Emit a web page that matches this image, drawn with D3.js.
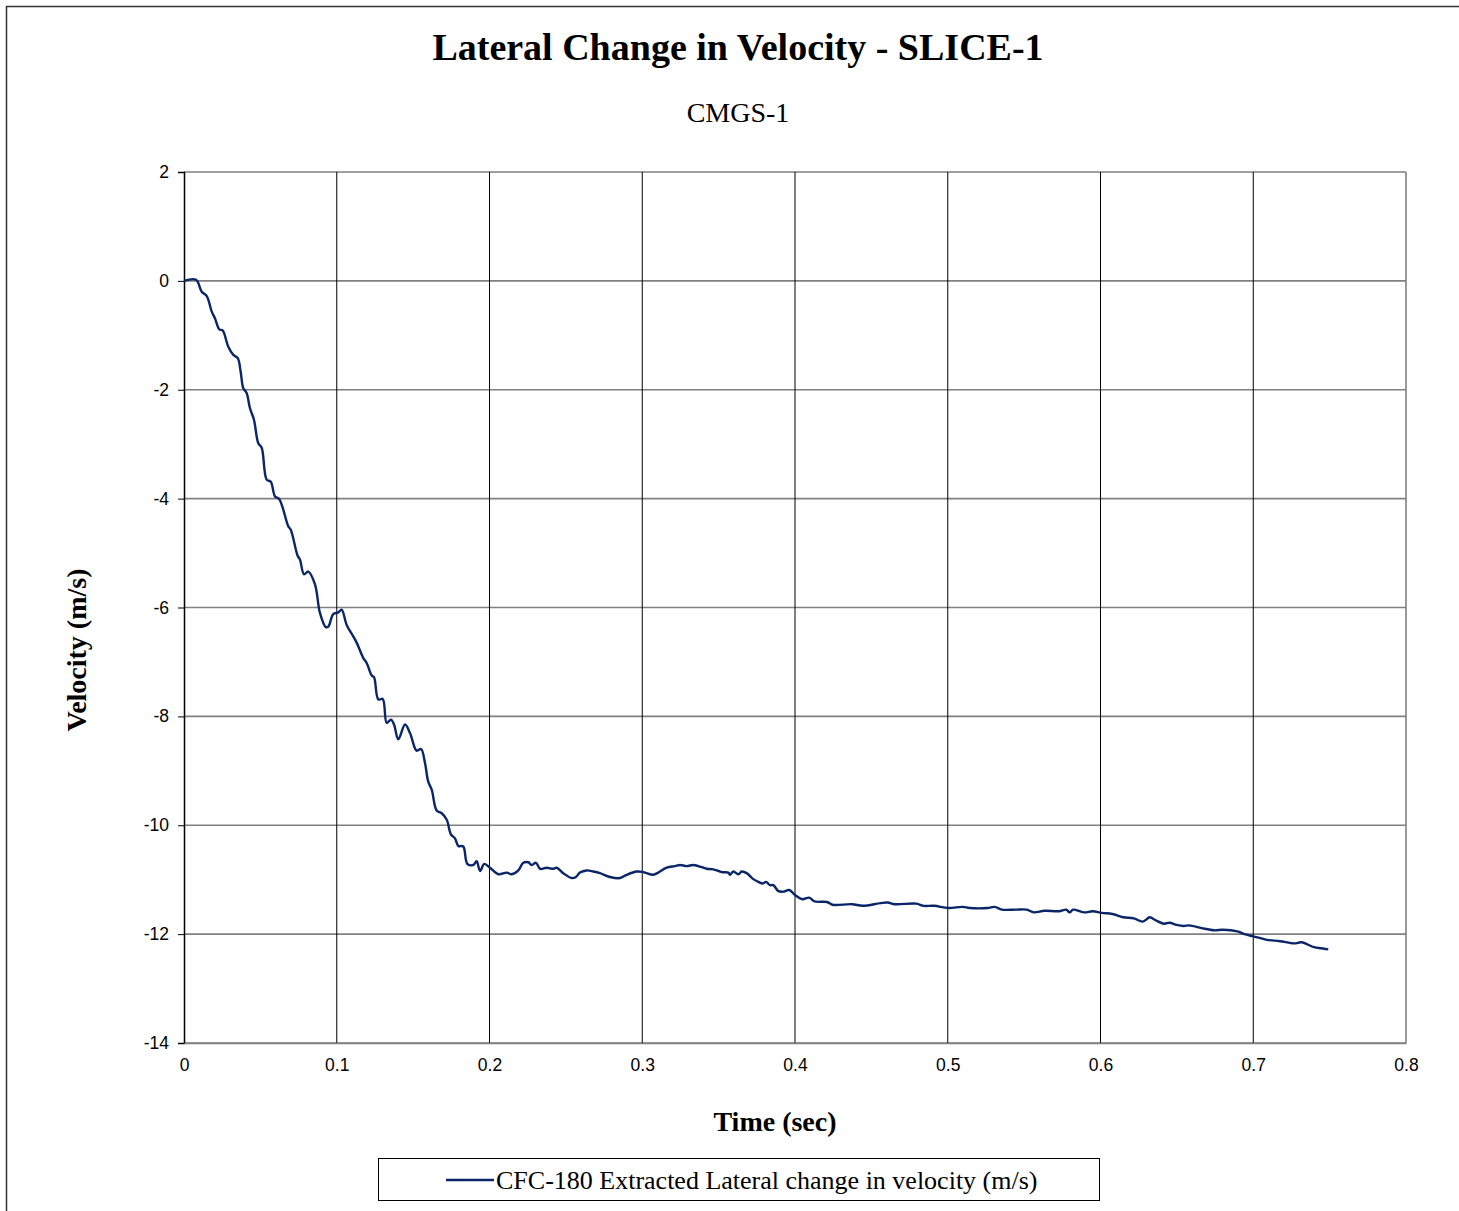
<!DOCTYPE html>
<html><head><meta charset="utf-8">
<script src="https://cdn.jsdelivr.net/npm/d3@7"></script>
<style>body{margin:0;background:#fff}svg{display:block}</style>
</head><body>
<svg id="c" width="1459" height="1211"></svg>
<script>
const title = "Lateral Change in Velocity - SLICE-1";
const subtitle = "CMGS-1";
const xLabel = "Time (sec)";
const yLabel = "Velocity (m/s)";
const seriesName = "CFC-180 Extracted Lateral change in velocity (m/s)";
const xTicks = [0, 0.1, 0.2, 0.3, 0.4, 0.5, 0.6, 0.7, 0.8];
const yTicks = [2, 0, -2, -4, -6, -8, -10, -12, -14];
const time = [0,0.0079,0.0116,0.0149,0.0181,0.0203,0.0231,0.0253,0.029,0.0323,0.0352,0.0371,0.0388,0.041,0.0432,0.0458,0.0486,0.0509,0.0541,0.0568,0.0596,0.0624,0.0683,0.0699,0.0744,0.0759,0.0786,0.0814,0.0858,0.089,0.0928,0.0945,0.0977,0.101,0.1032,0.1065,0.1108,0.1131,0.1174,0.1196,0.1229,0.1244,0.1272,0.1301,0.1327,0.1355,0.1375,0.1403,0.1447,0.148,0.1523,0.1552,0.1578,0.1599,0.1622,0.1654,0.1687,0.172,0.1748,0.1774,0.1796,0.1828,0.1855,0.1894,0.1916,0.1938,0.1966,0.2003,0.2058,0.2113,0.2145,0.2189,0.2221,0.2254,0.2276,0.2304,0.2331,0.2374,0.2418,0.244,0.2483,0.2538,0.2566,0.2592,0.2636,0.268,0.2723,0.2789,0.2854,0.2898,0.2964,0.3007,0.3072,0.3105,0.316,0.3214,0.3247,0.3291,0.3334,0.3367,0.3422,0.3465,0.352,0.3564,0.3574,0.3596,0.3629,0.3651,0.3684,0.3727,0.376,0.3789,0.381,0.3836,0.3858,0.3891,0.3923,0.3963,0.4,0.4047,0.4093,0.4128,0.421,0.4245,0.4374,0.4444,0.456,0.4607,0.4654,0.4794,0.4841,0.4911,0.5004,0.5097,0.5144,0.5261,0.5307,0.5354,0.5447,0.5517,0.5564,0.5634,0.5728,0.5775,0.5798,0.5821,0.5891,0.595,0.6008,0.6078,0.6148,0.6218,0.6276,0.6323,0.6358,0.6417,0.6452,0.6498,0.6545,0.658,0.6662,0.6744,0.6802,0.6896,0.6942,0.7,0.7082,0.7176,0.7269,0.7316,0.7398,0.7445,0.7491];
const velocity = [0,0.02,-0.2,-0.28,-0.56,-0.69,-0.89,-0.91,-1.21,-1.36,-1.42,-1.67,-1.97,-2.06,-2.34,-2.55,-2.98,-3.07,-3.65,-3.69,-3.96,-4.01,-4.51,-4.57,-5.05,-5.12,-5.39,-5.34,-5.58,-6.10,-6.36,-6.35,-6.12,-6.09,-6.04,-6.32,-6.53,-6.65,-6.93,-7.02,-7.25,-7.28,-7.69,-7.68,-8.12,-8.06,-8.15,-8.42,-8.15,-8.31,-8.63,-8.60,-8.86,-9.20,-9.35,-9.73,-9.78,-9.90,-10.17,-10.24,-10.38,-10.39,-10.71,-10.73,-10.66,-10.84,-10.71,-10.78,-10.9,-10.87,-10.9,-10.83,-10.69,-10.68,-10.73,-10.69,-10.8,-10.78,-10.8,-10.78,-10.88,-10.97,-10.95,-10.87,-10.83,-10.85,-10.88,-10.95,-10.97,-10.91,-10.85,-10.86,-10.91,-10.87,-10.78,-10.75,-10.73,-10.75,-10.73,-10.75,-10.8,-10.81,-10.86,-10.87,-10.91,-10.85,-10.9,-10.85,-10.88,-10.99,-11.04,-11.07,-11.04,-11.10,-11.10,-11.21,-11.22,-11.19,-11.28,-11.36,-11.33,-11.40,-11.41,-11.46,-11.45,-11.48,-11.43,-11.42,-11.45,-11.44,-11.48,-11.48,-11.52,-11.50,-11.52,-11.52,-11.50,-11.55,-11.55,-11.55,-11.60,-11.57,-11.58,-11.55,-11.60,-11.55,-11.60,-11.58,-11.61,-11.63,-11.69,-11.71,-11.77,-11.69,-11.74,-11.81,-11.79,-11.83,-11.85,-11.84,-11.89,-11.93,-11.92,-11.95,-12.00,-12.04,-12.10,-12.13,-12.17,-12.15,-12.24,-12.26,-12.28];

const svg = d3.select("#c");
const L = 184, R = 1406, T = 172, B = 1043;
const x = d3.scaleLinear().domain([0, 0.8]).range([L, R]);
const y = d3.scaleLinear().domain([-14, 2]).range([B, T]);
const serif = "'Liberation Serif','Times New Roman',serif";
const sans = "'Liberation Sans',Arial,sans-serif";

// outer border
svg.append("rect").attr("x", 6.5).attr("y", 6.5).attr("width", 1470).attr("height", 1220)
  .attr("fill", "none").attr("stroke", "#333").attr("stroke-width", 1.5);

// horizontal gridlines (grey)
svg.append("g").selectAll("line").data(yTicks).join("line")
  .attr("x1", L).attr("x2", R).attr("y1", d => y(d)).attr("y2", d => y(d))
  .attr("stroke", "#808080").attr("stroke-width", 1.6);
// vertical gridlines (black)
svg.append("g").selectAll("line").data(xTicks.slice(1, -1)).join("line")
  .attr("x1", d => x(d)).attr("x2", d => x(d)).attr("y1", T).attr("y2", B)
  .attr("stroke", "#000").attr("stroke-width", 1);
// plot frame right
svg.append("line").attr("x1", R).attr("x2", R).attr("y1", T).attr("y2", B)
  .attr("stroke", "#808080").attr("stroke-width", 1.6);

// y axis
const yAxis = d3.axisLeft(y).tickValues(yTicks).tickSize(6).tickPadding(9).tickFormat(d => String(d));
const gy = svg.append("g").attr("transform", `translate(${L},0)`).call(yAxis);
gy.select(".domain").attr("stroke", "#000").attr("stroke-width", 1.5);
gy.selectAll(".tick line").attr("stroke", "#000");
gy.selectAll("text").attr("font-family", sans).attr("font-size", 17.5).attr("fill", "#000");

// x axis labels
const xAxis = d3.axisBottom(x).tickValues(xTicks).tickSize(0).tickPadding(16).tickFormat(d => String(d));
const gx = svg.append("g").attr("transform", `translate(0,${B})`).call(xAxis);
gx.select(".domain").attr("stroke", "#808080").attr("stroke-width", 1.6);
gx.selectAll("text").attr("font-family", sans).attr("font-size", 17.5).attr("fill", "#000");

// line
const data = time.map((t, i) => [t, velocity[i]]);
svg.append("path").datum(data)
  .attr("d", d3.line().x(d => x(d[0])).y(d => y(d[1])).curve(d3.curveCatmullRom))
  .attr("fill", "none").attr("stroke", "#0a2568").attr("stroke-width", 2.4);

// titles
svg.append("text").attr("x", 738).attr("y", 60).attr("text-anchor", "middle")
  .attr("font-family", serif).attr("font-weight", "bold").attr("font-size", 38).text(title);
svg.append("text").attr("x", 738).attr("y", 122).attr("text-anchor", "middle")
  .attr("font-family", serif).attr("font-size", 28).text(subtitle);
svg.append("text").attr("x", 775).attr("y", 1131).attr("text-anchor", "middle")
  .attr("font-family", serif).attr("font-weight", "bold").attr("font-size", 28).text(xLabel);
svg.append("text").attr("transform", "translate(86,650) rotate(-90)").attr("text-anchor", "middle")
  .attr("font-family", serif).attr("font-weight", "bold").attr("font-size", 28).text(yLabel);

// legend
svg.append("rect").attr("x", 378.5).attr("y", 1158.5).attr("width", 721).attr("height", 42)
  .attr("fill", "#fff").attr("stroke", "#000").attr("stroke-width", 1);
svg.append("line").attr("x1", 446).attr("x2", 494).attr("y1", 1180).attr("y2", 1180)
  .attr("stroke", "#0a2568").attr("stroke-width", 2.4);
svg.append("text").attr("x", 496).attr("y", 1189).attr("font-family", serif).attr("font-size", 26)
  .text(seriesName);
</script>
</body></html>
